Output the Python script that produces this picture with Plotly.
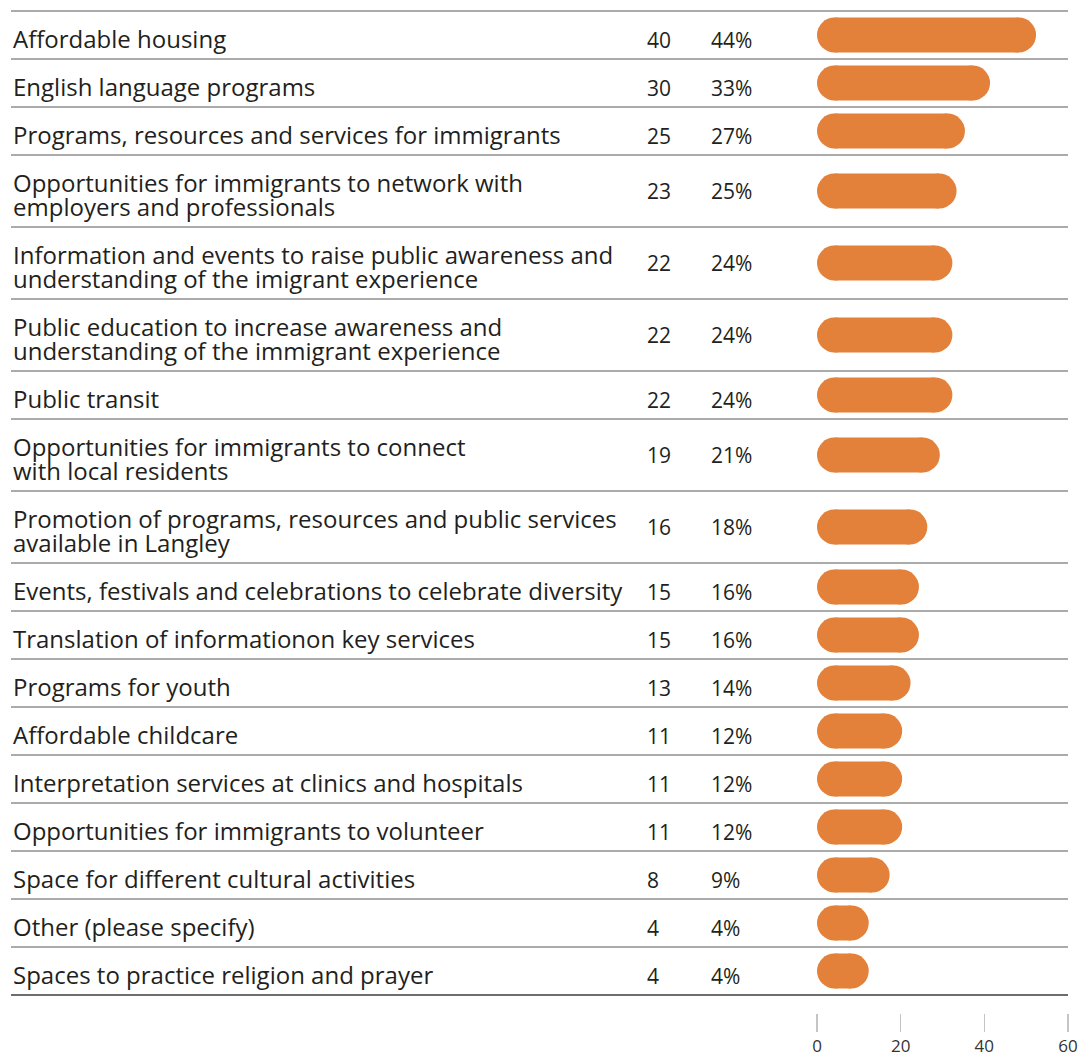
import plotly.graph_objects as go

# ---------------- data ----------------
labels = [
    "Affordable housing",
    "English language programs",
    "Programs, resources and services for immigrants",
    "Opportunities for immigrants to network with<br>employers and professionals",
    "Information and events to raise public awareness and<br>understanding of the imigrant experience",
    "Public education to increase awareness and<br>understanding of the immigrant experience",
    "Public transit",
    "Opportunities for immigrants to connect<br>with local residents",
    "Promotion of programs, resources and public services<br>available in Langley",
    "Events, festivals and celebrations to celebrate diversity",
    "Translation of informationon key services",
    "Programs for youth",
    "Affordable childcare",
    "Interpretation services at clinics and hospitals",
    "Opportunities for immigrants to volunteer",
    "Space for different cultural activities",
    "Other (please specify)",
    "Spaces to practice religion and prayer",
]
counts = [40, 30, 25, 23, 22, 22, 22, 19, 16, 15, 15, 13, 11, 11, 11, 8, 4, 4]
percents = [44, 33, 27, 25, 24, 24, 24, 21, 18, 16, 16, 14, 12, 12, 12, 9, 4, 4]
axis_ticks = [0, 20, 40, 60]

# ---------------- layout constants ----------------
W, H = 1078, 1057
ROW_PX = 48            # height of a one-line row
TABLE_TOP = 11         # px of top rule
PLOT_BOTTOM = 1013     # px where the axis ticks start
X0_PX, X1_PX = 817, 1068
BAR_PX = 35            # bar thickness in px
FONT = "Open Sans"
TEXT = "#231f20"
ORANGE = "#E3803A"

heights = [1.5 if "<br>" in l else 1.0 for l in labels]
tops, acc = [], 0.0
for h in heights:
    tops.append(acc)
    acc += h
total = acc
centers = [t + h / 2 for t, h in zip(tops, heights)]

px_per_unit_x = (X1_PX - X0_PX) / (axis_ticks[-1] - axis_ticks[0])
cap_units = (BAR_PX / 2) / px_per_unit_x

y_top = -TABLE_TOP / ROW_PX
y_bot = (PLOT_BOTTOM - TABLE_TOP) / ROW_PX

starts = [cap_units for _ in percents]
ends = [p + cap_units for p in percents]

fig = go.Figure()
# straight body of each pill
fig.add_trace(go.Bar(
    y=centers, x=percents, base=starts,
    orientation="h", width=BAR_PX / ROW_PX,
    marker=dict(color=ORANGE, line=dict(width=0)),
    hoverinfo="skip", showlegend=False,
))
# rounded caps
fig.add_trace(go.Scatter(
    x=starts + ends, y=centers + centers, mode="markers",
    marker=dict(color=ORANGE, size=BAR_PX, symbol="circle", line=dict(width=0)),
    hoverinfo="skip", showlegend=False, cliponaxis=False,
))

shapes = []
bounds = tops + [total]
for i, b in enumerate(bounds):
    last = i == len(bounds) - 1
    shapes.append(dict(
        type="line", xref="paper", yref="y",
        x0=11 / W, x1=X1_PX / W, y0=b, y1=b,
        line=dict(color="#3d3d3d" if last else "#8f8f8f", width=1.5),
        layer="below",
    ))

annotations = []
LINE_SP = 24 / ROW_PX
for lab, c, h, n, p in zip(labels, centers, heights, counts, percents):
    lines = lab.split("<br>")
    k = len(lines)
    for j, ln in enumerate(lines):
        yy = c + (j - (k - 1) / 2) * LINE_SP
        annotations.append(dict(
            text=ln, xref="paper", yref="y", x=10.5 / W, y=yy,
            xanchor="left", yanchor="middle", showarrow=False,
            font=dict(family=FONT, size=24, color=TEXT), yshift=-3,
        ))
    shift = -5 if k == 1 else 0
    annotations.append(dict(
        text=str(n), xref="paper", yref="y", x=645 / W, y=c,
        xanchor="left", yanchor="middle", showarrow=False,
        font=dict(family=FONT, size=21, color=TEXT), yshift=shift,
    ))
    annotations.append(dict(
        text=f"{p}%", xref="paper", yref="y", x=709 / W, y=c,
        xanchor="left", yanchor="middle", showarrow=False,
        font=dict(family=FONT, size=21, color=TEXT), yshift=shift,
    ))

fig.update_layout(
    width=W, height=H,
    margin=dict(l=0, r=0, t=0, b=H - PLOT_BOTTOM, pad=0, autoexpand=False),
    paper_bgcolor="white", plot_bgcolor="white",
    barmode="overlay",
    shapes=shapes, annotations=annotations,
    xaxis=dict(
        domain=[X0_PX / W, X1_PX / W], range=[axis_ticks[0], axis_ticks[-1]],
        tickvals=axis_ticks, ticktext=[str(t) for t in axis_ticks],
        ticks="outside", ticklen=18, tickwidth=1.5, tickcolor="#c4c4c4",
        showgrid=False, zeroline=False, showline=False, automargin=False,
        tickfont=dict(family=FONT, size=17, color="#333333"),
        fixedrange=True,
    ),
    yaxis=dict(
        range=[y_bot, y_top], visible=False, showgrid=False,
        zeroline=False, fixedrange=True, automargin=False,
    ),
)

fig.write_html(
    "out.html",
    config={"displayModeBar": False, "staticPlot": True},
    post_script="document.body.style.margin='0';document.body.style.overflow='hidden';",
)
